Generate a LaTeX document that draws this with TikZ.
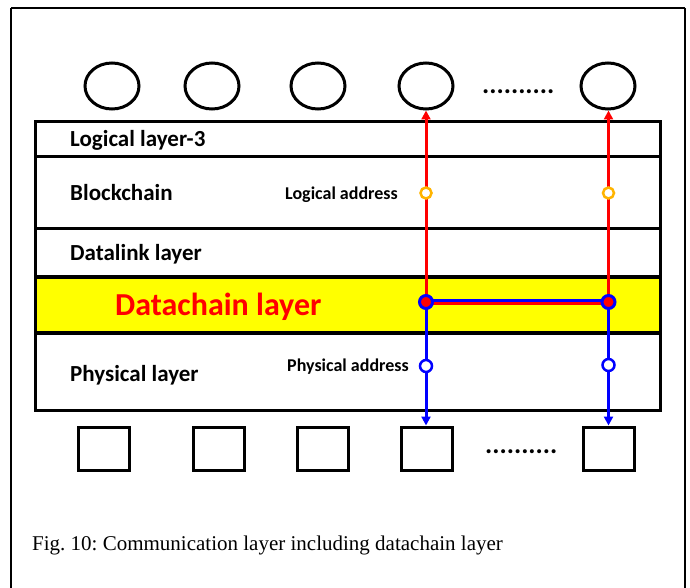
\documentclass[tikz,border=0pt]{standalone}
\usepackage{fontspec}
\setmainfont{Liberation Serif}
\newfontfamily\calfont{Carlito}
\usetikzlibrary{arrows.meta,shapes.geometric}
\definecolor{dcred}{RGB}{255,0,0}
\definecolor{dcblue}{RGB}{0,0,255}
\definecolor{dcorange}{RGB}{255,180,0}
\definecolor{dcyellow}{RGB}{255,255,0}
\tikzset{
  host/.style={draw, ellipse, line width=3pt, minimum width=54pt, minimum height=46pt, inner sep=0pt},
  dev/.style={draw, rectangle, line width=3pt, minimum width=51pt, minimum height=43pt, inner sep=0pt},
  lbl/.style={anchor=west, inner sep=0pt, font=\calfont\bfseries\fontsize{23}{26}\selectfont},
  addr/.style={anchor=west, inner sep=0pt, font=\calfont\bfseries\fontsize{18}{21}\selectfont},
  layerline/.style={line width=3pt},
  redline/.style={draw=dcred, line width=3pt},
  blueline/.style={draw=dcblue, line width=3pt},
  redarrow/.style={redline, -{Triangle[length=9pt,width=9pt]}},
  bluearrow/.style={blueline, -{Triangle[length=9pt,width=9pt]}},
  laddr/.style={circle, draw=dcorange, fill=white, line width=2.5pt, minimum size=11pt, inner sep=0pt},
  paddr/.style={circle, draw=dcblue, fill=white, line width=2.5pt, minimum size=12pt, inner sep=0pt},
  dcnode/.style={circle, draw=dcblue, fill=dcred, line width=3pt, minimum size=13pt, inner sep=0pt},
  dots/.style={anchor=base west, inner sep=0pt, font=\calfont\bfseries\fontsize{27}{27}\selectfont}
}
\begin{document}
\frenchspacing
\begin{tikzpicture}[x=1pt,y=-1pt]
\useasboundingbox (0,0) rectangle (690,588);
\fill[white] (0,0) rectangle (690,588);
% outer frame
\draw[line width=2pt] (11,8) -- (685,8);
\draw[line width=2pt] (11,8) -- (11,600);
\draw[line width=2pt] (685,8) -- (685,600);
% layers
\fill[dcyellow] (35,277) rectangle (660,333);
\draw[layerline] (35,122) rectangle (660,410);
\draw[layerline] (35,157) -- (660,157);
\draw[layerline] (35,228) -- (660,228);
\draw[line width=4pt] (35,277) -- (660,277);
\draw[line width=4pt] (35,333) -- (660,333);
% labels
\node[lbl] (l3) at (70,140) {Logical layer-3};
\node[lbl] (bc) at (70,193) {Blockchain};
\node[lbl] (dl) at (70,254) {Datalink layer};
\node[lbl] (pl) at (70,375) {Physical layer};
\node[anchor=west, inner sep=0pt, text=dcred, font=\calfont\bfseries\fontsize{32}{36}\selectfont] (dcl) at (115,307) {Datachain layer};
\node[addr] (la) at (285,195) {Logical address};
\node[addr] (pa) at (287,367) {Physical address};
% hosts
\node[host] (e1) at (112,86) {};
\node[host] (e2) at (212,86) {};
\node[host] (e3) at (318,86) {};
\node[host] (e4) at (426,86) {};
\node[host] (e5) at (608,86) {};
\node[dots] (td) at (482,94) {..........};
% devices
\node[dev] (s1) at (103.5,448.5) {};
\node[dev] (s2) at (219,448.5) {};
\node[dev] (s3) at (322.5,448.5) {};
\node[dev] (s4) at (426.5,448.5) {};
\node[dev] (s5) at (609,448.5) {};
\node[dots] (bd) at (485,453) {..........};
% datachain nodes
\coordinate (c1) at (426,302);
\coordinate (c2) at (608.5,302);
\draw[blueline] ([yshift=2pt]c1) -- ([yshift=2pt]c2);
\draw[draw=dcred, line width=2.5pt] ([yshift=-1.5pt]c1) -- ([yshift=-1.5pt]c2);
\draw[redarrow] (c1) -- (c1 |- e4.south);
\draw[redarrow] (c2) -- (c2 |- e5.south);
\draw[bluearrow] (c1) -- (c1 |- s4.north);
\draw[bluearrow] (c2) -- (c2 |- s5.north);
\node[dcnode] (d1) at (c1) {};
\node[dcnode] (d2) at (c2) {};
\node[laddr] (o1) at (426,193) {};
\node[laddr] (o2) at (608.5,193) {};
\node[paddr] (b1) at (426,366) {};
\node[paddr] (b2) at (608.5,365) {};
% caption
\node[anchor=west, inner sep=0pt, font=\fontsize{21}{24}\selectfont] (cap) at (32,545) {Fig. 10: Communication layer including datachain layer};
\end{tikzpicture}
\end{document}
